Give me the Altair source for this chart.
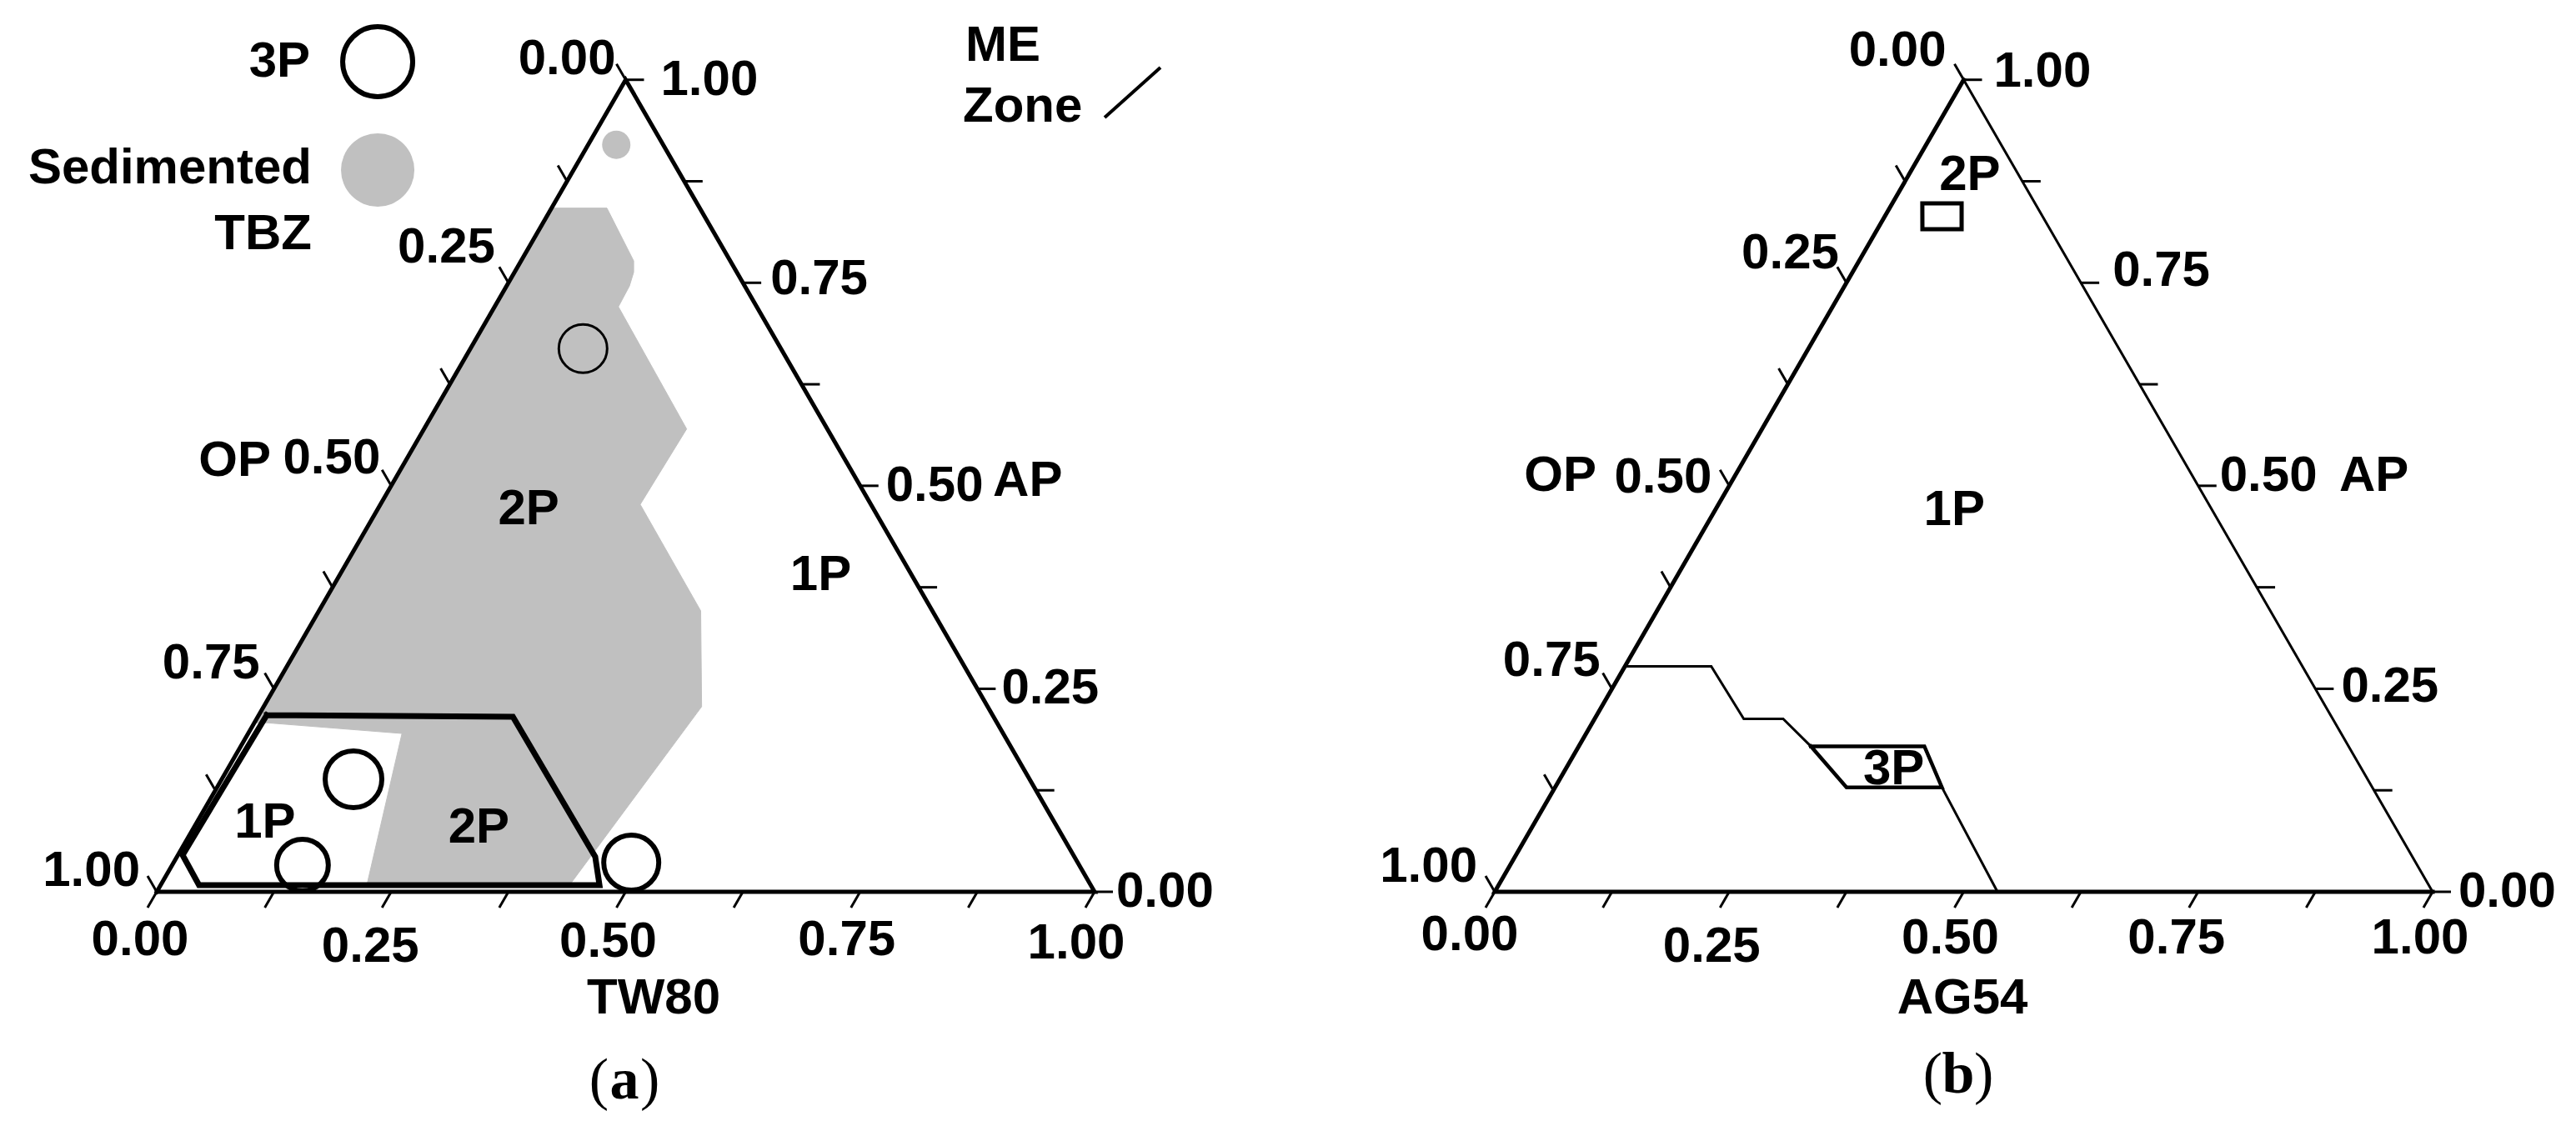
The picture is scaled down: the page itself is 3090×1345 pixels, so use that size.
import math
import altair as alt
import pandas as pd

# ------------------------------------------------------------------ data
# ternary coordinates: TW = bottom-axis fraction (TW80 / AG54), AP = right-axis fraction, OP = 1 - TW - AP
TICK_VALUES = [0.0, 0.125, 0.25, 0.375, 0.5, 0.625, 0.75, 0.875, 1.0]
LABEL_VALUES = [0.0, 0.25, 0.5, 0.75, 1.0]
LABEL_TEXTS = ["0.00", "0.25", "0.50", "0.75", "1.00"]
BOTTOM_TITLES = {"a": "TW80", "b": "AG54"}
LEFT_TITLE = "OP"
RIGHT_TITLE = "AP"

# panel (a): sedimented TBZ region
A_TBZ_TW = [0.0, 0.059, 0.120, 0.127, 0.131, 0.132, 0.280, 0.277, 0.407, 0.467, 0.436, 0.220, 0.164, 0.015, 0.0, 0.0]
A_TBZ_AP = [0.842, 0.842, 0.777, 0.763, 0.746, 0.7205, 0.570, 0.477, 0.346, 0.228, 0.008, 0.008, 0.195, 0.208, 0.208, 0.842]
A_TBZ_DOT_TW = [0.030]
A_TBZ_DOT_AP = [0.920]
# panel (a): ME zone
A_ME_TW = [0.0085, 0.272, 0.446, 0.468, 0.041, 0.005, 0.0085]
A_ME_AP = [0.2176, 0.2155, 0.0431, 0.0082, 0.0082, 0.0452, 0.2176]
# panel (a): 3P points
A_3P_TW = [0.120, 0.1405, 0.139, 0.488]
A_3P_AP = [0.669, 0.1386, 0.0328, 0.0359]
# panel (a): region labels
A_REGION_TEXT = ["2P", "1P", "1P", "2P"]
A_REGION_TW = [0.161, 0.513, 0.073, 0.304]
A_REGION_AP = [0.471, 0.390, 0.085, 0.079]

# panel (b): 1P / 2P boundary
B_BOUND_TW = [0.0, 0.092, 0.159, 0.201, 0.2475, 0.3685, 0.4125, 0.536]
B_BOUND_AP = [0.2777, 0.2777, 0.213, 0.213, 0.1792, 0.1792, 0.1286, 0.0]
# panel (b): 3P region
B_3P_TW = [0.2475, 0.3685, 0.4125, 0.3108, 0.2475]
B_3P_AP = [0.1792, 0.1792, 0.1286, 0.1286, 0.1792]
# panel (b): small 2P region
B_2P_TW = [0.032, 0.0739, 0.0898, 0.048, 0.032]
B_2P_AP = [0.8478, 0.8478, 0.816, 0.816, 0.8478]
# panel (b): region labels
B_REGION_TEXT = ["2P", "1P", "3P"]
B_REGION_TW = [0.065, 0.255, 0.350]
B_REGION_AP = [0.883, 0.470, 0.151]

# ------------------------------------------------------------------ style / layout
SQ3 = math.sqrt(3) / 2.0
PX = 1125.0            # pixels per unit of triangle side
PANEL_H = 1330
BLY = 1062.0
LAYOUT = {"a": {"width": 1530, "blx": 180.0}, "b": {"width": 1544, "blx": 255.0}}
YDOM = [-(PANEL_H - BLY) / PX, BLY / PX]
GRAY = "#c0c0c0"
SANS = "Liberation Sans"
SERIF = "Liberation Serif"
FS = 60
TICK_LEN = 22.0

# per-panel tick-label offsets in px (dx, dy; dy positive = downward)
OFFS = {
    "a": {
        "bottom": ([-20, -25, -21, -16, -22], [58, 66, 60, 58, 62]),
        "left": ([-12, -16, -13, -17, -20], [-25, -42, -33, -30, -25]),
        "right": ([26, 29, 31, 33, 42], [0, 0, 0, -4, 0]),
    },
    "b": {
        "bottom": ([-30, -21, -16, -26, -15], [52, 66, 56, 56, 56]),
        "left": ([-21, -9, -21, -14, -21], [-35, -35, -10, -33, -30]),
        "right": ([31, 31, 26, 38, 36], [0, -2, -12, -14, -10]),
    },
}
# axis-title anchor positions (data units, cartesian)
TITLES = {
    "a": {"left": (0.1218, 0.4596), "right": (0.8916, 0.4382), "bottom": (0.5298, -0.1138), "caption": (0.4987, -0.2018)},
    "b": {"left": (0.1084, 0.4436), "right": (0.9004, 0.4436), "bottom": (0.4987, -0.1138), "caption": (0.4942, -0.1956)},
}


def cart(tw, ap):
    return tw + ap / 2.0, ap * SQ3


def scales(key):
    w = LAYOUT[key]["width"]
    blx = LAYOUT[key]["blx"]
    xd = [-blx / PX, (w - blx) / PX]
    return (alt.Scale(domain=xd, nice=False, zero=False),
            alt.Scale(domain=YDOM, nice=False, zero=False))


def path_df(tws, aps):
    rows = []
    for i, (t, a) in enumerate(zip(tws, aps)):
        x, y = cart(t, a)
        rows.append({"i": i, "x": x, "y": y})
    return pd.DataFrame(rows)


def line_layer(df, xs, ys, width, color="black", fill=None):
    kw = dict(color=color, strokeWidth=width, strokeJoin="miter", strokeCap="square")
    if fill is not None:
        kw["fill"] = fill
    return alt.Chart(df).mark_line(**kw).encode(
        x=alt.X("x:Q", scale=xs, axis=None),
        y=alt.Y("y:Q", scale=ys, axis=None),
        order="i:Q",
    )


def rule_layer(df, xs, ys, width):
    return alt.Chart(df).mark_rule(color="black", strokeWidth=width, strokeCap="butt").encode(
        x=alt.X("x:Q", scale=xs, axis=None),
        y=alt.Y("y:Q", scale=ys, axis=None),
        x2="x2:Q",
        y2="y2:Q",
    )


def point_layer(df, xs, ys, filled, color):
    enc = dict(
        x=alt.X("x:Q", scale=xs, axis=None),
        y=alt.Y("y:Q", scale=ys, axis=None),
        size=alt.Size("s:Q", scale=None),
    )
    if not filled:
        enc["strokeWidth"] = alt.StrokeWidth("w:Q", scale=None)
    return alt.Chart(df).mark_point(shape="circle", filled=filled, color=color, opacity=1).encode(**enc)


def text_layer(rows, xs, ys, align, font=SANS, size=FS, weight="bold"):
    df = pd.DataFrame(rows)
    return alt.Chart(df).mark_text(
        align=align, baseline="middle", font=font, fontSize=size, fontWeight=weight, color="black"
    ).encode(
        x=alt.X("x:Q", scale=xs, axis=None),
        y=alt.Y("y:Q", scale=ys, axis=None),
        text="t:N",
    )


def ticks_df():
    L = TICK_LEN / PX
    rows = []
    for t in TICK_VALUES:
        x, y = cart(t, 0.0)                       # bottom axis
        rows.append({"x": x, "y": y, "x2": x - 0.5 * L, "y2": y - SQ3 * L})
        x, y = cart(1.0 - t, t)                   # right axis (AP = t)
        rows.append({"x": x, "y": y, "x2": x + L, "y2": y})
        x, y = cart(0.0, 1.0 - t)                 # left axis (OP = t)
        rows.append({"x": x, "y": y, "x2": x - 0.5 * L, "y2": y + SQ3 * L})
    return pd.DataFrame(rows)


def axis_text_layers(key, xs, ys):
    o = OFFS[key]
    bottom, left, right = [], [], []
    for k, (v, s) in enumerate(zip(LABEL_VALUES, LABEL_TEXTS)):
        x, y = cart(v, 0.0)
        bottom.append({"x": x + o["bottom"][0][k] / PX, "y": y - o["bottom"][1][k] / PX, "t": s})
        x, y = cart(0.0, 1.0 - v)
        left.append({"x": x + o["left"][0][k] / PX, "y": y - o["left"][1][k] / PX, "t": s})
        x, y = cart(1.0 - v, v)
        right.append({"x": x + o["right"][0][k] / PX, "y": y - o["right"][1][k] / PX, "t": s})
    tt = TITLES[key]
    left.append({"x": tt["left"][0], "y": tt["left"][1], "t": LEFT_TITLE})
    right.append({"x": tt["right"][0], "y": tt["right"][1], "t": RIGHT_TITLE})
    bottom.append({"x": tt["bottom"][0], "y": tt["bottom"][1], "t": BOTTOM_TITLES[key]})
    return [text_layer(bottom, xs, ys, "center"),
            text_layer(left, xs, ys, "right"),
            text_layer(right, xs, ys, "left")]


def caption_layers(key, xs, ys):
    cx, cy = TITLES[key]["caption"]
    half = 19.0 / PX
    return [
        text_layer([{"x": cx - half, "y": cy, "t": "("}], xs, ys, "right", font=SERIF, size=70, weight="normal"),
        text_layer([{"x": cx, "y": cy, "t": key}], xs, ys, "center", font=SERIF, size=70, weight="bold"),
        text_layer([{"x": cx + half, "y": cy, "t": ")"}], xs, ys, "left", font=SERIF, size=70, weight="normal"),
    ]


def region_text(texts, tws, aps):
    rows = []
    for s, t, a in zip(texts, tws, aps):
        x, y = cart(t, a)
        rows.append({"x": x, "y": y, "t": s})
    return rows


TRI_TW = [0.0, 1.0, 0.0, 0.0]
TRI_AP = [0.0, 0.0, 1.0, 0.0]

# ------------------------------------------------------------------ panel (a)
xs, ys = scales("a")
layers_a = []
layers_a.append(line_layer(path_df(A_TBZ_TW, A_TBZ_AP), xs, ys, 1, color=GRAY, fill=GRAY))
dot = path_df(A_TBZ_DOT_TW, A_TBZ_DOT_AP)
dot["s"] = [1156]
layers_a.append(point_layer(dot, xs, ys, True, GRAY))
layers_a.append(line_layer(path_df(TRI_TW, TRI_AP), xs, ys, 5))
layers_a.append(rule_layer(ticks_df(), xs, ys, 3))
layers_a.append(line_layer(path_df(A_ME_TW, A_ME_AP), xs, ys, 7))
pts = path_df(A_3P_TW, A_3P_AP)
pts["s"] = [3364, 4624, 3844, 4356]
pts["w"] = [3, 6, 6, 6]
layers_a.append(point_layer(pts, xs, ys, False, "black"))
# legend symbols
leg_open = pd.DataFrame({"x": [0.2356], "y": [0.8853], "s": [7056], "w": [6]})
layers_a.append(point_layer(leg_open, xs, ys, False, "black"))
leg_gray = pd.DataFrame({"x": [0.2356], "y": [0.7698], "s": [7744]})
layers_a.append(point_layer(leg_gray, xs, ys, True, GRAY))
leg_line = pd.DataFrame({"x": [1.0107], "y": [0.8258], "x2": [1.0702], "y2": [0.8791]})
layers_a.append(rule_layer(leg_line, xs, ys, 4))
layers_a += axis_text_layers("a", xs, ys)
layers_a.append(text_layer(region_text(A_REGION_TEXT, A_REGION_TW, A_REGION_AP), xs, ys, "center"))
layers_a.append(text_layer([
    {"x": 0.1636, "y": 0.8853, "t": "3P"},
    {"x": 0.1653, "y": 0.7716, "t": "Sedimented"},
    {"x": 0.1653, "y": 0.7013, "t": "TBZ"},
], xs, ys, "right"))
layers_a.append(text_layer([
    {"x": 0.8622, "y": 0.9022, "t": "ME"},
    {"x": 0.8596, "y": 0.8373, "t": "Zone"},
], xs, ys, "left"))
layers_a += caption_layers("a", xs, ys)
panel_a = alt.layer(*layers_a).properties(width=LAYOUT["a"]["width"], height=PANEL_H)

# ------------------------------------------------------------------ panel (b)
xs, ys = scales("b")
layers_b = []
layers_b.append(line_layer(path_df(TRI_TW, TRI_AP), xs, ys, 3))
layers_b.append(line_layer(path_df([0.0, 0.0, 1.0], [1.0, 0.0, 0.0]), xs, ys, 5))
layers_b.append(rule_layer(ticks_df(), xs, ys, 3))
layers_b.append(line_layer(path_df(B_BOUND_TW, B_BOUND_AP), xs, ys, 3))
layers_b.append(line_layer(path_df(B_3P_TW, B_3P_AP), xs, ys, 4.5))
layers_b.append(line_layer(path_df(B_2P_TW, B_2P_AP), xs, ys, 5))
layers_b += axis_text_layers("b", xs, ys)
layers_b.append(text_layer(region_text(B_REGION_TEXT, B_REGION_TW, B_REGION_AP), xs, ys, "center"))
layers_b += caption_layers("b", xs, ys)
panel_b = alt.layer(*layers_b).properties(width=LAYOUT["b"]["width"], height=PANEL_H)

chart = (
    alt.hconcat(panel_a, panel_b, spacing=0)
    .properties(padding=0, background="white")
    .configure_view(stroke=None)
)

chart.save("out.html", embed_options={"renderer": "svg", "actions": False})
